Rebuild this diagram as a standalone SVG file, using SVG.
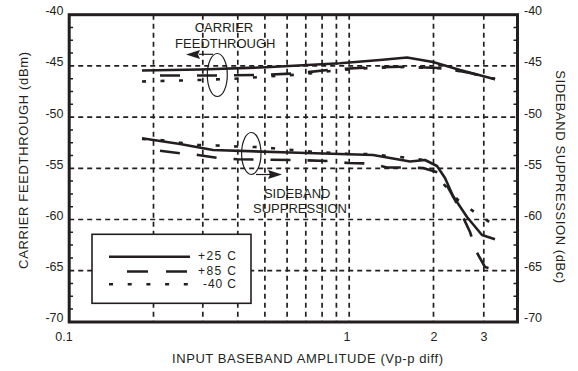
<svg xmlns="http://www.w3.org/2000/svg" width="578" height="371" viewBox="0 0 578 371">
<style>
text{font-family:"Liberation Sans",Arial,sans-serif;fill:#231f20}
.tk{font-size:12.5px}
.ttl{font-size:13px}
.lg{font-size:12px}
.grid{stroke:#231f20;stroke-width:1.7;stroke-dasharray:5 4;fill:none}
.frame{stroke:#231f20;stroke-width:3;fill:none}
.c{fill:none;stroke:#231f20;stroke-width:2.6;stroke-linejoin:round;stroke-linecap:butt}
.s85{stroke-dasharray:20 17}
.s40{stroke-dasharray:4 14.5}
.thin{fill:none;stroke:#231f20;stroke-width:1.2}
.mt{stroke:#231f20;stroke-width:1.5}
</style>
<rect width="578" height="371" fill="#fff"/>
<g id="grid">
<line class="grid" x1="69.2" y1="65.9" x2="517.5" y2="65.9"/>
<line class="grid" x1="69.2" y1="117.1" x2="517.5" y2="117.1"/>
<line class="grid" x1="69.2" y1="168.3" x2="517.5" y2="168.3"/>
<line class="grid" x1="69.2" y1="219.5" x2="517.5" y2="219.5"/>
<line class="grid" x1="69.2" y1="270.7" x2="517.5" y2="270.7"/>
<line class="grid" x1="153.5" y1="14.7" x2="153.5" y2="322"/>
<line class="grid" x1="202.8" y1="14.7" x2="202.8" y2="322"/>
<line class="grid" x1="237.8" y1="14.7" x2="237.8" y2="322"/>
<line class="grid" x1="264.9" y1="14.7" x2="264.9" y2="322"/>
<line class="grid" x1="287.1" y1="14.7" x2="287.1" y2="322"/>
<line class="grid" x1="305.8" y1="14.7" x2="305.8" y2="322"/>
<line class="grid" x1="322.1" y1="14.7" x2="322.1" y2="322"/>
<line class="grid" x1="336.4" y1="14.7" x2="336.4" y2="322"/>
<line class="grid" x1="349.2" y1="14.7" x2="349.2" y2="322"/>
<line class="grid" x1="433.5" y1="14.7" x2="433.5" y2="322"/>
<line class="grid" x1="483.8" y1="14.7" x2="483.8" y2="322"/>
</g>
<g id="minor-ticks">
<path class="mt" d="M69,27.5h4M69,40.3h4M69,53.1h4M69,78.7h4M69,91.5h4M69,104.3h4M69,129.9h4M69,142.7h4M69,155.5h4M69,181.1h4M69,193.9h4M69,206.7h4M69,232.3h4M69,245.1h4M69,257.9h4M69,283.5h4M69,296.3h4M69,309.1h4"/>
<path class="mt" d="M517.5,27.5h-4M517.5,40.3h-4M517.5,53.1h-4M517.5,78.7h-4M517.5,91.5h-4M517.5,104.3h-4M517.5,129.9h-4M517.5,142.7h-4M517.5,155.5h-4M517.5,181.1h-4M517.5,193.9h-4M517.5,206.7h-4M517.5,232.3h-4M517.5,245.1h-4M517.5,257.9h-4M517.5,283.5h-4M517.5,296.3h-4M517.5,309.1h-4"/>
</g>
<rect id="frame" class="frame" x="69.2" y="14.7" width="448.3" height="307.3"/>
<g id="ticklabels" class="tk">
<text x="63.5" y="15.2" text-anchor="end">-40</text>
<text x="63.5" y="66.4" text-anchor="end">-45</text>
<text x="63.5" y="117.6" text-anchor="end">-50</text>
<text x="63.5" y="168.8" text-anchor="end">-55</text>
<text x="63.5" y="220" text-anchor="end">-60</text>
<text x="63.5" y="271.2" text-anchor="end">-65</text>
<text x="63.5" y="322.4" text-anchor="end">-70</text>
<text x="524" y="15.2">-40</text>
<text x="524" y="66.4">-45</text>
<text x="524" y="117.6">-50</text>
<text x="524" y="168.8">-55</text>
<text x="524" y="220">-60</text>
<text x="524" y="271.2">-65</text>
<text x="524" y="322.4">-70</text>
<text x="64" y="340.5" text-anchor="middle">0.1</text>
<text x="347" y="340.5" text-anchor="middle">1</text>
<text x="434" y="340.5" text-anchor="middle">2</text>
<text x="484" y="340.5" text-anchor="middle">3</text>
</g>
<g id="titles" class="ttl">
<text x="307.5" y="363" text-anchor="middle" textLength="271" lengthAdjust="spacing">INPUT BASEBAND AMPLITUDE (Vp-p diff)</text>
<text transform="translate(28,160.4) rotate(-90)" text-anchor="middle" textLength="217" lengthAdjust="spacing">CARRIER FEEDTHROUGH (dBm)</text>
<text transform="translate(555.5,176.7) rotate(90)" text-anchor="middle" textLength="213" lengthAdjust="spacing">SIDEBAND SUPPRESSION (dBc)</text>
</g>
<g id="curves">
<polyline class="c" points="142,70.5 200,69.5 266,67.3 340,63.3 380,60 407,57.5 433,62 460,70 495,79.3"/>
<polyline class="c s85" points="160,75.5 218,75.5 257,75 295,73.5 333,69.5 370,67.3 407,66.7 445,68.3 470,73 495,79"/>
<polyline class="c s40" points="142,81.5 200,80 240,78.5 260,77 300,74.5 340,70 370,68 407,67 445,68.5 470,73 495,79"/>
<polyline class="c" points="142,138.3 180,144 213,150 290,152.5 373,155 410,161.5 425,160 437,166 445,178 453,196 467,217 482,235 495,239.3"/>
<polyline class="c s85" points="160,150.7 180,153.3 198,155 218,158 237,159.3 255,159.5 293,160 330,161 348,163 370,163.5 387,167.5 405,167.5 423,168 440,173 455,200 470,232 476,251 485,267 496,270"/>
<polyline class="c s40" points="142,139 160,140 180,142.7 198,145 217,145.5 237,146.5 255,147 273,148.3 292,150 312,151.7 330,152.7 350,154 367,154 400,157 425,160 440,180 458,200 477,214 494,225"/>
</g>
<g id="annot-carrier">
<ellipse class="thin" cx="217.3" cy="75" rx="10" ry="21.5"/>
<line class="thin" x1="199" y1="54.3" x2="213" y2="54.3"/>
<polygon points="186,54.5 200,50 198,54.5 200,59" fill="#231f20"/>
<text class="ttl" x="224" y="32" text-anchor="middle">CARRIER</text>
<text class="ttl" x="225.3" y="48" text-anchor="middle">FEEDTHROUGH</text>
</g>
<g id="annot-sideband">
<ellipse class="thin" cx="251.3" cy="153.5" rx="9.7" ry="21"/>
<line class="thin" x1="256" y1="174.5" x2="270" y2="174.5"/>
<polygon points="282,174.5 268,170 270,174.5 268,179" fill="#231f20"/>
<text class="ttl" x="297.2" y="197.7" text-anchor="middle">SIDEBAND</text>
<text class="ttl" x="300" y="213.3" text-anchor="middle">SUPPRESSION</text>
</g>
<g id="legend">
<rect x="92" y="234.3" width="159" height="69" fill="#fff" stroke="#231f20" stroke-width="1.6"/>
<line class="c" x1="109" y1="256.7" x2="190" y2="256.7"/>
<line class="c" x1="127" y1="271.5" x2="190" y2="271.5" stroke-dasharray="21 18"/>
<line class="c" x1="109" y1="284.3" x2="190" y2="284.3" stroke-dasharray="4 14.7"/>
<text class="lg" x="198" y="260.3" textLength="38" lengthAdjust="spacing">+25 C</text>
<text class="lg" x="198" y="274.8" textLength="38" lengthAdjust="spacing">+85 C</text>
<text class="lg" x="203" y="288.3" textLength="33" lengthAdjust="spacing">-40 C</text>
</g>
</svg>
